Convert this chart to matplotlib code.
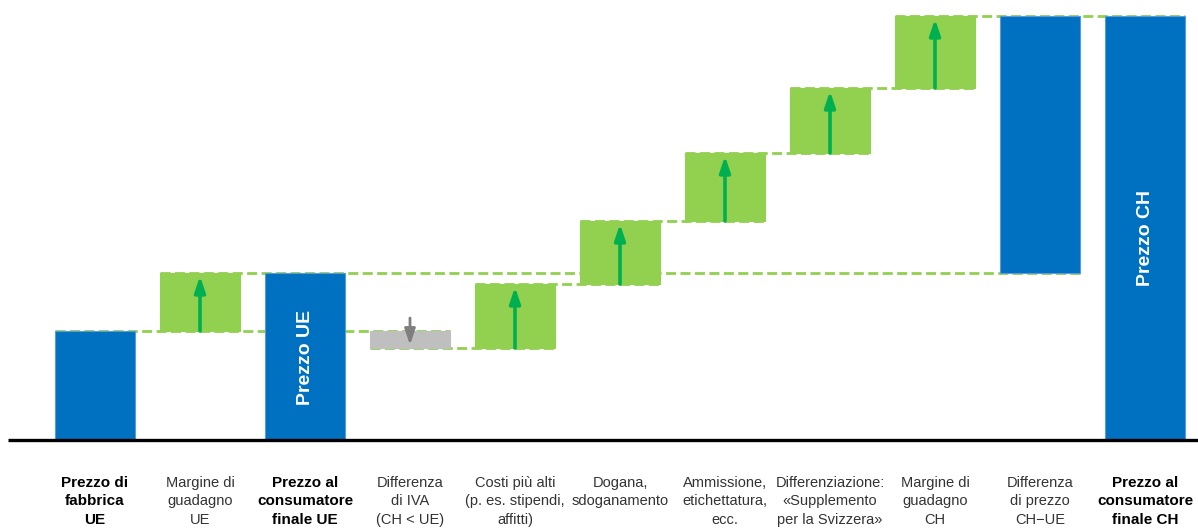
import numpy as np
import matplotlib
matplotlib.use("Agg")
import matplotlib.pyplot as plt

plt.rcParams["font.family"] = ["Liberation Sans", "DejaVu Sans"]

C_BLUE = "#0070C0"; C_STEP = "#92D050"; C_GREY = "#BFBFBF"
C_ARROW = "#00B050"; C_ARROW_DOWN = "#7F7F7F"; C_DASH = "#92D050"

# ---- labels along the bottom ----
labels = [
    "Prezzo di\nfabbrica\nUE",
    "Margine di\nguadagno\nUE",
    "Prezzo al\nconsumatore\nfinale UE",
    "Differenza\ndi IVA\n(CH < UE)",
    "Costi più alti\n(p. es. stipendi,\naffitti)",
    "Dogana,\nsdoganamento",
    "Ammissione,\netichettatura,\necc.",
    "Differenziazione:\n«Supplemento\nper la Svizzera»",
    "Margine di\nguadagno\nCH",
    "Differenza\ndi prezzo\nCH\u2212UE",
    "Prezzo al\nconsumatore\nfinale CH",
]
bold = [True, False, True, False, False, False, False, False, False, False, True]

# ---- values (index units) ----
factory_eu = 109
margin_eu = 58
vat_diff = -17
ch_steps = [64, 63, 68, 65, 72]   # costs, customs, admission, swiss supplement, margin CH

price_eu = factory_eu + margin_eu
levels = np.cumsum([factory_eu + vat_diff] + ch_steps)
price_ch = levels[-1]
price_gap = price_ch - price_eu

W = 0.762
fig = plt.figure(figsize=(11.98, 5.31), dpi=100)
ax = fig.add_axes([0, 91 / 531, 1, 440 / 531])
ax.set_xlim(-95 / 105, 1103 / 105)
ax.set_ylim(0, 440)
ax.axis("off")

# (x, bottom, height, colour)
bars = [(0, 0, factory_eu, C_BLUE),
        (1, factory_eu, margin_eu, C_STEP),
        (2, 0, price_eu, C_BLUE),
        (3, factory_eu + vat_diff, -vat_diff, C_GREY)]
for i, step in enumerate(ch_steps):
    bars.append((4 + i, levels[i], step, C_STEP))
bars.append((9, price_eu, price_gap, C_BLUE))
bars.append((10, 0, price_ch, C_BLUE))

for x, b, h, c in bars:
    ec = "#5B9BD5" if c == C_BLUE else c
    ax.bar(x, h, W, bottom=b, color=c, edgecolor=ec, lw=0.8, zorder=3)

# dashed connectors: (level, first bar, last bar)
dash = dict(color=C_DASH, lw=2.0, ls=(0, (3.6, 1.6)), zorder=2)
connectors = [(factory_eu, 0, 3), (price_eu, 1, 9), (levels[0], 3, 4)]
for i in range(len(ch_steps) - 1):
    connectors.append((levels[i + 1], 4 + i, 5 + i))
connectors.append((price_ch, 8, 10))
for lev, a, b in connectors:
    ax.plot([a - W / 2, b + W / 2], [lev, lev], **dash)

# arrows inside the step bars
def arrow(x, y0, y1, color, lw=2.6):
    ax.annotate("", xy=(x, y1), xytext=(x, y0),
                arrowprops=dict(arrowstyle="-|>,head_width=0.32,head_length=0.95",
                                color=color, lw=lw, shrinkA=0, shrinkB=0),
                zorder=4)

arrow(1, factory_eu, price_eu - 3, C_ARROW)
for i, step in enumerate(ch_steps):
    arrow(4 + i, levels[i], levels[i] + step - 3, C_ARROW)
arrow(3, factory_eu + 13, factory_eu + vat_diff + 3, C_ARROW_DOWN, lw=2.0)

# names written inside the two price bars
ax.text(2, 83, "Prezzo UE", rotation=90, color="white", fontsize=14,
        fontweight="bold", ha="center", va="center", zorder=5)
ax.text(10, 202, "Prezzo CH", rotation=90, color="white", fontsize=14,
        fontweight="bold", ha="center", va="center", zorder=5)

# base line
ax.plot([-87 / 105, 1103 / 105], [0, 0], color="black", lw=2.4,
        solid_capstyle="butt", clip_on=False, zorder=6)

for i, (lab, b) in enumerate(zip(labels, bold)):
    ax.text(i, -36, lab, ha="center", va="top", linespacing=1.4,
            fontsize=11 if b else 10.5, fontweight="bold" if b else "normal",
            color="black" if b else "#333333", clip_on=False)

fig.savefig("out.png", dpi=100)
